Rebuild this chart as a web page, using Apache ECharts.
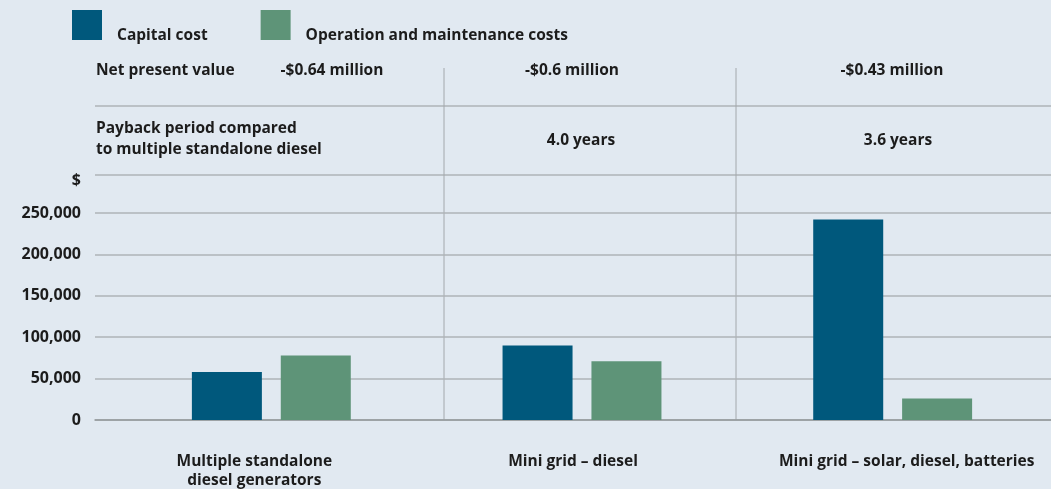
<!DOCTYPE html>
<html>
<head>
<meta charset="utf-8">
<script src="https://cdn.jsdelivr.net/npm/echarts@6/dist/echarts.min.js"></script>
<style>
  html, body { margin: 0; padding: 0; background: #e1e9f1; }
  #chart { width: 1051px; height: 489px; }
</style>
</head>
<body>
<div id="chart"></div>
<script>
const categories = ['Multiple standalone\ndiesel generators', 'Mini grid – diesel', 'Mini grid – solar, diesel, batteries'];
const seriesNames = ['Capital cost', 'Operation and maintenance costs'];
const capitalCost = [58000, 90000, 242000];
const omCost = [78000, 71000, 26000];
const npvLabel = 'Net present value';
const npvValues = ['-$0.64 million', '-$0.6 million', '-$0.43 million'];
const paybackLabel = 'Payback period compared\nto multiple standalone diesel';
const paybackValues = ['', '4.0 years', '3.6 years'];
const yMin = 0, yMax = 250000, yStep = 50000;
const yUnit = '$';

const FONT = '"Open Sans", Lato, sans-serif';
const TXT = '#1c1c1c';
const GRID_C = '#aeb3b7';
const FW = 'bold';
const FS = 15.5;

const chart = echarts.init(document.getElementById('chart'), null, { renderer: 'canvas' });

const fmt = v => v.toString().replace(/\B(?=(\d{3})+(?!\d))/g, ',');

const npvX = [332, 572, 892];
const payX = [0, 581, 898];
const catLabelShift = [0, 0, 30];

const F15 = FW + ' ' + FS + 'px ' + FONT;
const graphic = [];
[106, 175].forEach(y => graphic.push({
  type: 'line', shape: { x1: 95, y1: y, x2: 1051, y2: y },
  style: { stroke: GRID_C, lineWidth: 1.5 }, z: 0
}));
[444, 736].forEach(x => graphic.push({
  type: 'line', shape: { x1: x, y1: 68, x2: x, y2: 420 },
  style: { stroke: '#a3a8ac', lineWidth: 1 }, z: 0
}));
graphic.push({ type: 'text', x: 96, y: 71, style: { text: npvLabel, font: F15, fill: TXT, align: 'left', verticalAlign: 'middle' } });
npvValues.forEach((t, i) => graphic.push({ type: 'text', x: npvX[i], y: 71, style: { text: t, font: F15, fill: TXT, align: 'center', verticalAlign: 'middle' } }));
graphic.push({ type: 'text', x: 96, y: 139, style: { text: paybackLabel, font: F15, lineHeight: 21, fill: TXT, align: 'left', verticalAlign: 'middle' } });
paybackValues.forEach((t, i) => { if (t) graphic.push({ type: 'text', x: payX[i], y: 141, style: { text: t, font: F15, fill: TXT, align: 'center', verticalAlign: 'middle' } }); });
graphic.push({ type: 'text', x: 81, y: 180, style: { text: yUnit, font: FW + ' 16px ' + FONT, fill: TXT, align: 'right', verticalAlign: 'middle' } });

const labelRich = { fontSize: FS, fontWeight: FW, color: TXT, fontFamily: FONT, lineHeight: 19 };

const option = {
  backgroundColor: '#e1e9f1',
  animation: false,
  textStyle: { fontFamily: FONT },
  legend: {
    left: 72, top: 10, padding: 0,
    itemWidth: 30, itemHeight: 30, itemGap: 53,
    icon: 'rect',
    formatter: name => '{t|' + name + '}',
    textStyle: {
      fontSize: FS, fontWeight: FW, color: TXT, fontFamily: FONT,
      rich: { t: { fontSize: FS, fontWeight: FW, color: TXT, fontFamily: FONT, padding: [22, 0, 0, 10] } }
    },
    data: seriesNames
  },
  graphic: graphic,
  grid: [
    { left: 95, right: 0, top: 213, bottom: 69, outerBoundsMode: 'none', containLabel: false },
    { left: 116, right: 3, top: 213, bottom: 69, outerBoundsMode: 'none', containLabel: false }
  ],
  xAxis: [
    {
      gridIndex: 0, type: 'category', data: categories,
      axisLine: { show: true, lineStyle: { color: '#94999c', width: 1.5 } },
      axisTick: { show: false },
      axisLabel: {
        interval: 0, hideOverlap: false, margin: 32, verticalAlign: 'top',
        fontSize: FS, fontWeight: FW, color: TXT, fontFamily: FONT, lineHeight: 19,
        formatter: (v, i) => catLabelShift[i] ? '{s|' + v + '}' : v,
        rich: { s: Object.assign({ padding: [0, 0, 0, 30] }, labelRich) }
      },
      splitLine: { show: false }
    },
    {
      gridIndex: 1, type: 'category', data: categories, show: false
    }
  ],
  yAxis: [
    {
      gridIndex: 0, type: 'value', min: yMin, max: yMax, interval: yStep,
      axisLine: { show: false }, axisTick: { show: false },
      axisLabel: { margin: 14, fontSize: 16, fontWeight: FW, color: TXT, fontFamily: FONT, formatter: fmt },
      splitLine: { show: true, lineStyle: { color: GRID_C, width: 1.5 } }
    },
    {
      gridIndex: 1, type: 'value', min: yMin, max: yMax, interval: yStep, show: false,
      splitLine: { show: false }
    }
  ],
  series: [
    {
      name: seriesNames[0], type: 'bar', xAxisIndex: 1, yAxisIndex: 1,
      data: capitalCost, barWidth: 70, barGap: '27%',
      itemStyle: { color: '#00587c' }
    },
    {
      name: seriesNames[1], type: 'bar', xAxisIndex: 1, yAxisIndex: 1,
      data: omCost, barWidth: 70, barGap: '27%',
      itemStyle: { color: '#5e9478' }
    }
  ]
};
chart.setOption(option);
</script>
</body>
</html>
